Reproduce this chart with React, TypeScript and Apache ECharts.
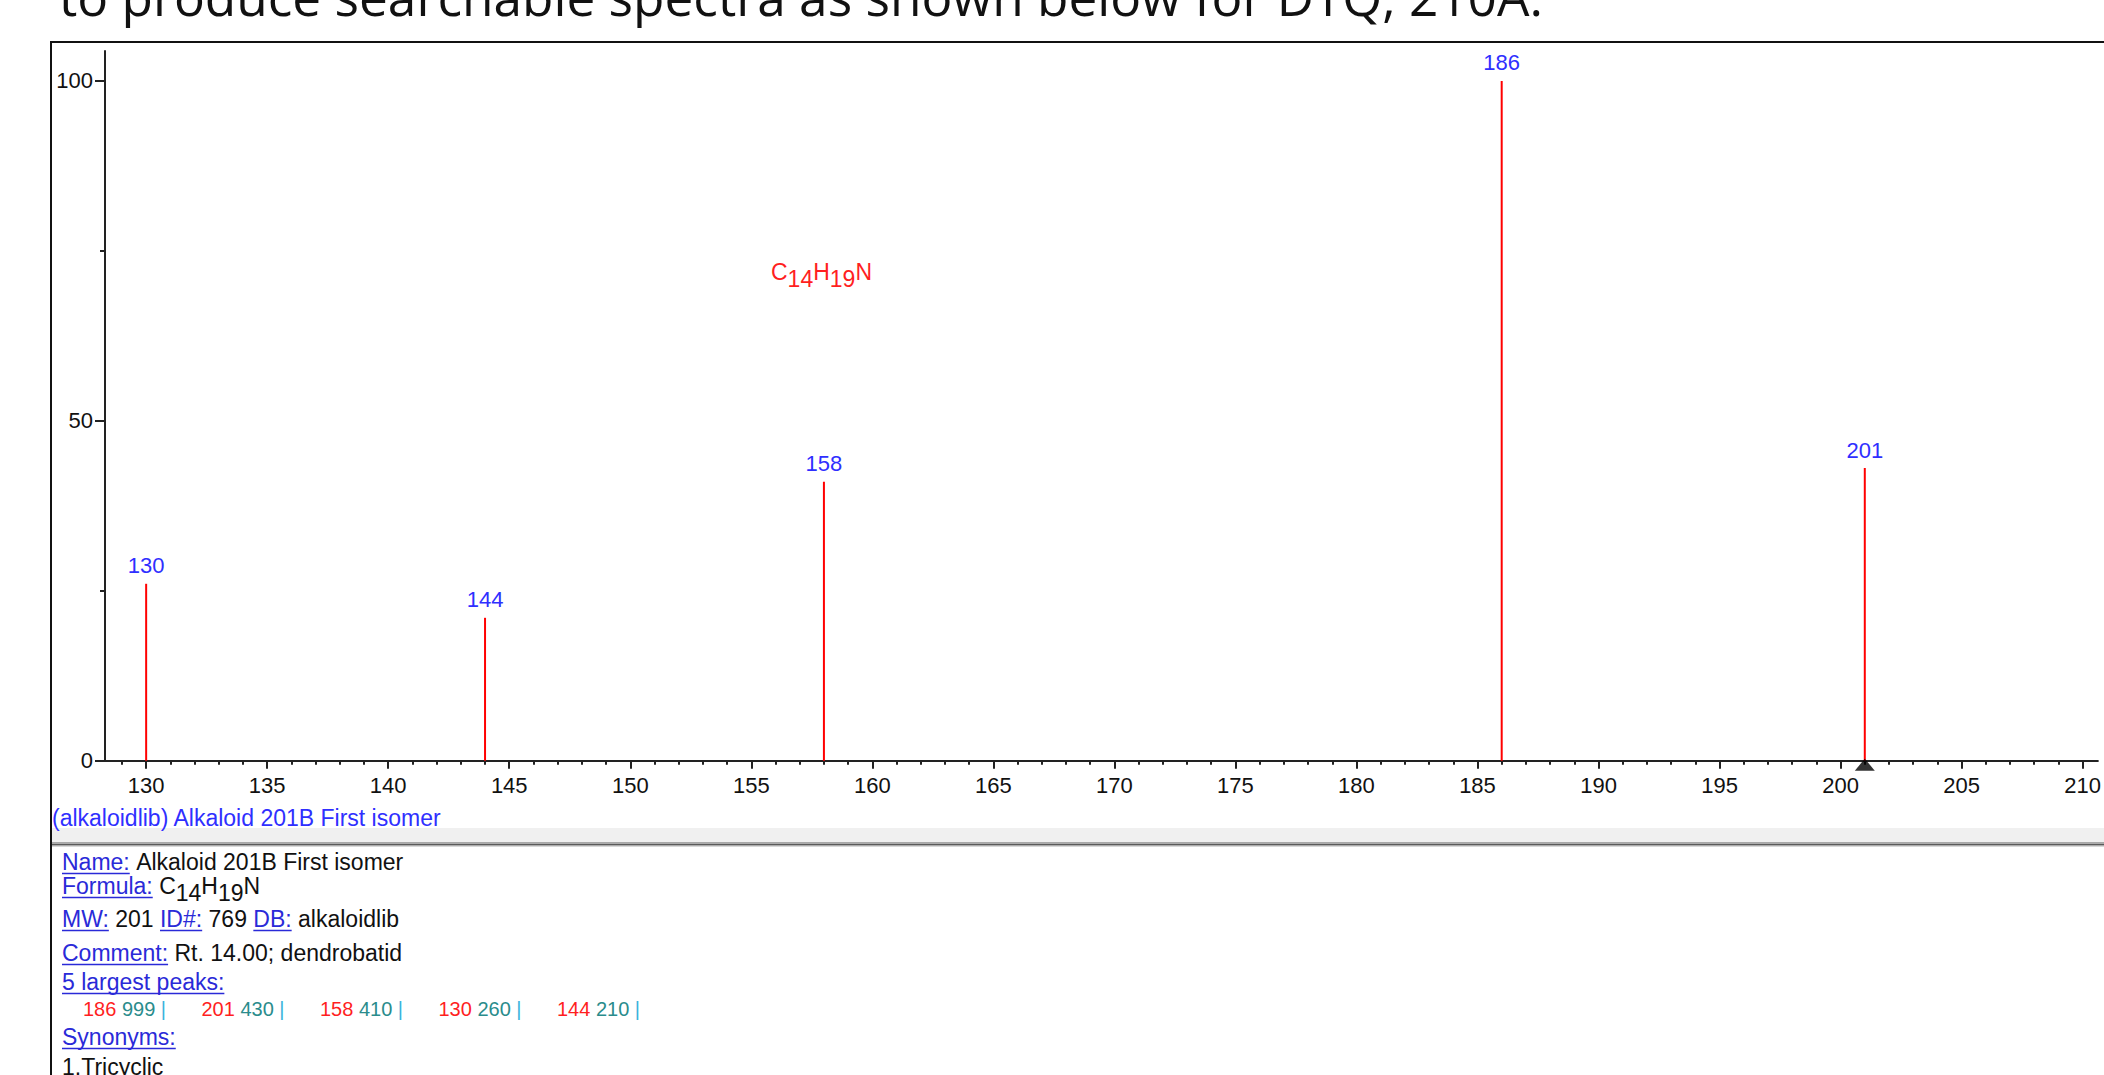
import React, { useEffect, useRef } from "react";
import * as echarts from "echarts";

// ---- data ----
const peakMz = [130, 144, 158, 186, 201];
const peakIntensity = [26.0, 21.0, 41.0, 99.9, 43.0];
const precursorMz = [201];
const xMajorTicks = [130, 135, 140, 145, 150, 155, 160, 165, 170, 175, 180, 185, 190, 195, 200, 205, 210];
const yMajorTicks = [0, 50, 100];
const yMinorTicks = [25, 75];
const xRange = [128.3, 210.63];
const yRange = [0, 104.3];

const headerText = "to produce searchable spectra as shown below for DTQ, 210A.";
const libraryName = "alkaloidlib";
const compoundName = "Alkaloid 201B First isomer";
const formulaParts = [
  { t: "C", sub: false },
  { t: "14", sub: true },
  { t: "H", sub: false },
  { t: "19", sub: true },
  { t: "N", sub: false },
];
const molWeight = 201;
const libraryId = 769;
const commentText = "Rt. 14.00; dendrobatid";
const synonyms = ["Tricyclic"];

const FONT = '"Liberation Sans", Arial, sans-serif';
const BLUE = "#2f2fff";
const LINKBLUE = "#2a2ad8";
const RED = "#ff1f1f";
const TEAL = "#2a8c8c";
const BAR = "#3cb4dc";

type Seg = { t: string; c: string; u?: boolean; sub?: boolean; pad?: number };

let _ctx: CanvasRenderingContext2D | null = null;
function measure(text: string, size: number, family = FONT) {
  if (!_ctx) _ctx = document.createElement("canvas").getContext("2d");
  _ctx!.font = `${size}px ${family}`;
  return _ctx!.measureText(text).width;
}

function lineEls(segs: Seg[], x0: number, y: number, size: number): any[] {
  let x = x0;
  const els: any[] = [];
  for (const s of segs) {
    x += s.pad || 0;
    const full = measure(s.t, size);
    const lead = s.t.length - s.t.trimStart().length;
    const trimmed = s.t.trim();
    const leadW = lead ? measure(s.t.slice(0, lead), size) : 0;
    const tw = measure(trimmed, size);
    if (trimmed.length) {
      const yy = y + (s.sub ? size * 0.3 : 0);
      els.push({
        type: "text",
        silent: true,
        style: {
          text: trimmed,
          x: x + leadW,
          y: yy,
          fill: s.c,
          fontSize: size,
          fontFamily: FONT,
          textAlign: "left",
          verticalAlign: "middle",
          textVerticalAlign: "middle",
        },
      });
      if (s.u) {
        els.push({
          type: "line",
          silent: true,
          shape: { x1: x + leadW, y1: y + size * 0.5, x2: x + leadW + tw, y2: y + size * 0.5 },
          style: { stroke: s.c, lineWidth: 1.5 },
        });
      }
    }
    x += full;
  }
  return els;
}

export default function App() {
  const ref = useRef<HTMLDivElement>(null);

  useEffect(() => {
    if (!ref.current) return;
    const chart = echarts.init(ref.current, undefined, { renderer: "svg" });

    const minorX: number[] = [];
    for (let v = Math.ceil(xRange[0]); v <= Math.floor(xRange[1]); v++) {
      if (v % 5 !== 0) minorX.push(v);
    }

    // header sizing
    const headerFamily = '"Open Sans", sans-serif';
    const headerSize = (1484 / measure(headerText, 100, headerFamily)) * 100;

    // top peaks row
    const RS = 20;
    const order = peakMz.map((m, i) => i).sort((a, b) => peakIntensity[b] - peakIntensity[a]);
    const peakSegs: Seg[] = [];
    order.slice(0, 5).forEach((i, k) => {
      const grp =
        measure(String(peakMz[i]), RS) +
        measure(" " + String(Math.round(peakIntensity[i] * 10)), RS) +
        measure(" |", RS);
      peakSegs.push({ t: String(peakMz[i]), c: RED, pad: k === 0 ? 0 : Math.max(0, 118.5 - grpPrev) });
      peakSegs.push({ t: " " + String(Math.round(peakIntensity[i] * 10)), c: TEAL });
      peakSegs.push({ t: " |", c: BAR });
      grpPrev = grp;
    });
    var grpPrev: number;

    const formulaSegs = (color: string): Seg[] => formulaParts.map((p) => ({ t: p.t, c: color, sub: p.sub }));

    const S = 23;
    const infoX = 62;
    const graphics: any[] = [
      // frame
      {
        type: "rect",
        silent: true,
        shape: { x: 51, y: 42, width: 2200, height: 1200 },
        style: { fill: "none", stroke: "#111", lineWidth: 2 },
      },
      // separator band
      { type: "rect", silent: true, shape: { x: 52, y: 828, width: 2100, height: 14 }, style: { fill: "#f0f0f0" } },
      { type: "line", silent: true, shape: { x1: 52, y1: 842.5, x2: 2150, y2: 842.5 }, style: { stroke: "#a8a8a8", lineWidth: 1 } },
      { type: "line", silent: true, shape: { x1: 52, y1: 844.5, x2: 2150, y2: 844.5 }, style: { stroke: "#5a5a5a", lineWidth: 2 } },
      { type: "line", silent: true, shape: { x1: 52, y1: 846.5, x2: 2150, y2: 846.5 }, style: { stroke: "#d8d8d8", lineWidth: 1 } },
      // header (cropped at top)
      {
        type: "text",
        silent: true,
        style: {
          text: headerText,
          x: 59,
          y: -4,
          fill: "#111",
          fontSize: headerSize,
          fontFamily: headerFamily,
          verticalAlign: "middle",
          textVerticalAlign: "middle",
        },
      },
      // spectrum caption
      ...lineEls([{ t: `(${libraryName}) ${compoundName}`, c: BLUE }], 52, 818, S),
      // formula annotation
      ...lineEls(formulaSegs(RED), 771, 272, 23),
      // info panel
      ...lineEls([{ t: "Name:", c: LINKBLUE, u: true }, { t: " " + compoundName, c: "#111" }], infoX, 862, S),
      ...lineEls([{ t: "Formula:", c: LINKBLUE, u: true }, { t: " ", c: "#111" }, ...formulaSegs("#111")], infoX, 886, S),
      ...lineEls(
        [
          { t: "MW:", c: LINKBLUE, u: true },
          { t: ` ${molWeight} `, c: "#111" },
          { t: "ID#:", c: LINKBLUE, u: true },
          { t: ` ${libraryId} `, c: "#111" },
          { t: "DB:", c: LINKBLUE, u: true },
          { t: ` ${libraryName}`, c: "#111" },
        ],
        infoX,
        919,
        S
      ),
      ...lineEls([{ t: "Comment:", c: LINKBLUE, u: true }, { t: " " + commentText, c: "#111" }], infoX, 953, S),
      ...lineEls([{ t: "5 largest peaks:", c: LINKBLUE, u: true }], infoX, 982, S),
      ...lineEls(peakSegs, 83, 1009, RS),
      ...lineEls([{ t: "Synonyms:", c: LINKBLUE, u: true }], infoX, 1037, S),
      ...lineEls([{ t: `1.${synonyms[0]}`, c: "#111" }], infoX, 1067, S),
    ];

    chart.setOption({
      animation: false,
      backgroundColor: "#ffffff",
      grid: { left: 105, right: 0, top: 51, bottom: 314.3, containLabel: false },
      xAxis: [
        {
          type: "value",
          min: xRange[0],
          max: xRange[1],
          splitLine: { show: false },
          axisLine: { show: true, onZero: false, lineStyle: { color: "#222", width: 2 } },
          axisTick: { show: true, inside: false, length: 8, customValues: xMajorTicks, lineStyle: { color: "#222", width: 2 } },
          axisLabel: {
            show: true,
            customValues: xMajorTicks,
            margin: 14,
            color: "#111",
            fontSize: 22,
            fontFamily: FONT,
          },
        },
        {
          type: "value",
          min: xRange[0],
          max: xRange[1],
          position: "bottom",
          splitLine: { show: false },
          axisLine: { show: false },
          axisTick: { show: true, length: 4, customValues: minorX, lineStyle: { color: "#222", width: 2 } },
          axisLabel: { show: false },
        },
      ],
      yAxis: [
        {
          type: "value",
          min: yRange[0],
          max: yRange[1],
          splitLine: { show: false },
          axisLine: { show: true, onZero: false, lineStyle: { color: "#222", width: 2 } },
          axisTick: { show: true, length: 10, customValues: yMajorTicks, lineStyle: { color: "#222", width: 2 } },
          axisLabel: {
            show: true,
            customValues: yMajorTicks,
            margin: 12,
            color: "#111",
            fontSize: 22,
            fontFamily: FONT,
          },
        },
        {
          type: "value",
          min: yRange[0],
          max: yRange[1],
          position: "left",
          splitLine: { show: false },
          axisLine: { show: false },
          axisTick: { show: true, length: 5, customValues: yMinorTicks, lineStyle: { color: "#222", width: 2 } },
          axisLabel: { show: false },
        },
      ],
      series: [
        {
          type: "bar",
          xAxisIndex: 0,
          yAxisIndex: 0,
          barWidth: 2,
          itemStyle: { color: "#ff0000" },
          data: peakMz.map((m, i) => [m, peakIntensity[i]]),
          label: {
            show: true,
            position: "top",
            distance: 7,
            color: BLUE,
            fontSize: 22,
            fontFamily: FONT,
            formatter: (p: any) => String(p.value[0]),
          },
          z: 2,
        },
        {
          type: "scatter",
          xAxisIndex: 0,
          yAxisIndex: 0,
          clip: false,
          symbol: "triangle",
          symbolSize: [20, 12],
          symbolOffset: [0, 4],
          itemStyle: { color: "#000" },
          data: precursorMz.map((m) => [m, 0]),
          z: 5,
        },
      ],
      graphic: graphics,
    });

    return () => chart.dispose();
  }, []);

  return (
    <div
      style={{
        position: "fixed",
        left: 0,
        top: 0,
        width: 2104,
        height: 1075,
        overflow: "hidden",
        background: "#fff",
      }}
    >
      <div ref={ref} style={{ width: 2104, height: 1075 }} />
    </div>
  );
}
